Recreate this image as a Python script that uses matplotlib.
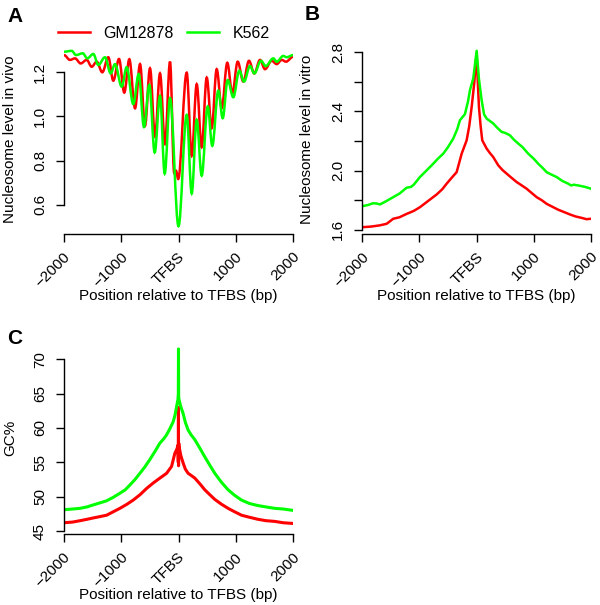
import matplotlib
matplotlib.use("Agg")
import matplotlib.pyplot as plt
from matplotlib.path import Path
from matplotlib.patches import PathPatch
import matplotlib.transforms as mtransforms

plt.rcParams['font.family'] = ['Liberation Sans', 'DejaVu Sans']
plt.rcParams['font.size'] = 11

RED = "#FF0000"
GREEN = "#00FF00"
W, H = 600, 605

### DATA ###

# A: nucleosome level in vivo, peaks and troughs
posA_gm = [-2000, -1895, -1808, -1708, -1604, -1516, -1429, -1331, -1226, -1139,
           -1039, -947, -859, -759, -672, -585, -498, -410, -323, -236,
           -148, -75, -45, -5, 143, 231, 318, 405, 493, 580,
           667, 755, 852, 940, 1034, 1132, 1231, 1324, 1424, 1511,
           1628, 1715, 1803, 1878, 2000]
valA_gm = [1.278, 1.256, 1.263, 1.240, 1.256, 1.225, 1.248, 1.200, 1.268, 1.162,
           1.260, 1.108, 1.259, 1.037, 1.237, 0.958, 1.218, 0.909, 1.195, 0.876,
           1.248, 0.745, 0.755, 0.717, 1.198, 0.822, 1.146, 0.861, 1.176, 0.947,
           1.214, 1.037, 1.243, 1.105, 1.248, 1.158, 1.252, 1.195, 1.256, 1.214,
           1.252, 1.237, 1.256, 1.248, 1.270]
posA_k = [-2000, -1866, -1790, -1673, -1593, -1488, -1401, -1284, -1184, -1109,
          -992, -905, -790, -695, -603, -510, -416, -323, -241, -148,
          0, 143, 231, 318, 405, 510, 590, 695, 772, 859,
          957, 1062, 1144, 1249, 1324, 1441, 1523, 1656, 1715, 1831,
          1890, 2000]
valA_k = [1.293, 1.297, 1.278, 1.286, 1.263, 1.283, 1.233, 1.268, 1.195, 1.237,
          1.135, 1.223, 1.056, 1.192, 0.952, 1.143, 0.837, 1.093, 0.741, 1.083,
          0.503, 1.007, 0.651, 0.985, 0.732, 1.045, 0.867, 1.117, 0.992, 1.165,
          1.087, 1.207, 1.158, 1.228, 1.195, 1.252, 1.228, 1.263, 1.248, 1.274,
          1.268, 1.278]

# B: nucleosome level in vitro
posB_gm = [-2000, -1850, -1700, -1574, -1459, -1350, -1224, -1100, -992, -850,
           -700, -600, -525, -430, -350, -262, -175, -130, -87, -40,
           -12, 0, 20, 40, 70, 98, 175, 230, 290, 378,
           450, 525, 600, 700, 790, 874, 960, 1049, 1140, 1224,
           1330, 1427, 1530, 1632, 1736, 1836, 1920, 2000]
valB_gm = [1.618, 1.622, 1.630, 1.641, 1.675, 1.685, 1.708, 1.728, 1.753, 1.795,
           1.839, 1.875, 1.912, 1.955, 1.990, 2.115, 2.205, 2.300, 2.431, 2.600,
           2.748, 2.780, 2.600, 2.431, 2.300, 2.205, 2.149, 2.120, 2.092, 2.036,
           2.005, 1.980, 1.955, 1.923, 1.900, 1.878, 1.850, 1.821, 1.800, 1.776,
           1.755, 1.736, 1.720, 1.704, 1.690, 1.681, 1.672, 1.675]
posB_k = [-2000, -1900, -1808, -1750, -1691, -1600, -1459, -1350, -1224, -1150,
          -1100, -992, -880, -759, -680, -584, -500, -409, -340, -292,
          -205, -150, -117, -59, 0, 40, 87, 130, 175, 290,
          360, 437, 500, 582, 650, 728, 800, 902, 1000, 1077,
          1150, 1224, 1300, 1399, 1500, 1602, 1650, 1700, 1777, 1900,
          2000]
valB_k = [1.760, 1.768, 1.780, 1.778, 1.772, 1.790, 1.821, 1.845, 1.885, 1.890,
          1.905, 1.957, 2.000, 2.047, 2.080, 2.115, 2.160, 2.217, 2.280, 2.341,
          2.382, 2.470, 2.544, 2.624, 2.810, 2.620, 2.477, 2.380, 2.352, 2.319,
          2.290, 2.262, 2.255, 2.239, 2.210, 2.183, 2.160, 2.115, 2.080, 2.047,
          2.020, 1.990, 1.975, 1.957, 1.930, 1.912, 1.900, 1.905, 1.900, 1.890,
          1.878]

# C: GC%
posC_gm = [-2000, -1850, -1720, -1600, -1489, -1370, -1255, -1140, -1023, -900,
           -791, -670, -557, -440, -325, -208, -121, -64, -25, -10,
           -4, -1, 1, 4, 10, 40, 81, 120, 168, 220,
           285, 370, 459, 545, 634, 750, 866, 980, 1100, 1240,
           1389, 1530, 1680, 1830, 2000]
valC_gm = [46.2, 46.3, 46.5, 46.7, 46.9, 47.1, 47.3, 47.8, 48.3, 48.9,
           49.5, 50.3, 51.2, 52.0, 52.7, 53.4, 54.4, 56.3, 57.0, 57.5,
           55.0, 63.0, 54.5, 57.8, 57.3, 56.0, 54.9, 54.0, 53.4, 53.1,
           52.7, 51.9, 51.0, 50.3, 49.6, 48.9, 48.3, 47.8, 47.3, 47.0,
           46.7, 46.5, 46.4, 46.2, 46.1]
posC_k = [-2000, -1850, -1720, -1600, -1489, -1370, -1255, -1140, -1023, -930,
          -848, -760, -674, -590, -500, -410, -325, -260, -208, -150,
          -93, -60, -34, -10, -3, 0, 3, 10, 40, 81,
          120, 168, 220, 285, 370, 459, 545, 634, 750, 866,
          980, 1100, 1240, 1389, 1530, 1680, 1830, 2000]
valC_k = [48.1, 48.2, 48.3, 48.5, 48.8, 49.1, 49.4, 49.9, 50.5, 51.0,
          51.7, 52.5, 53.4, 54.3, 55.4, 56.6, 57.8, 58.4, 59.0, 59.9,
          60.9, 61.9, 63.1, 64.1, 65.0, 71.5, 64.5, 64.1, 63.1, 62.1,
          60.8, 59.7, 59.0, 58.3, 57.1, 55.8, 54.6, 53.4, 52.1, 51.0,
          50.2, 49.5, 49.0, 48.7, 48.5, 48.3, 48.2, 48.0]

xticks = [-2000, -1000, 0, 1000, 2000]
xticklabels = ["\u22122000", "\u22121000", "TFBS", "1000", "2000"]
xlab = "Position relative to TFBS (bp)"


'''
smoothPath(xs, ys)
cubic bezier through the extrema, flat tangent at each one
'''
def smoothPath(xs, ys, k=0.36):
    verts = [(xs[0], ys[0])]
    codes = [Path.MOVETO]
    for i in range(1, len(xs)):
        h = xs[i] - xs[i-1]
        verts.append((xs[i-1] + k*h, ys[i-1]))
        verts.append((xs[i] - k*h, ys[i]))
        verts.append((xs[i], ys[i]))
        codes += [Path.CURVE4]*3
    return Path(verts, codes)


def addAxes(fig, left, top, right, bottom):
    return fig.add_axes([left/W, 1 - bottom/H, (right-left)/W, (bottom-top)/H])


def styleAxes(ax, ylim, yticks, ylabels):
    ax.set_xlim(-2000, 2000)
    ax.set_ylim(*ylim)
    for s in ["top", "right"]:
        ax.spines[s].set_visible(False)
    ax.spines["left"].set_bounds(yticks[0], yticks[-1])
    ax.spines["left"].set_linewidth(1)
    ax.spines["bottom"].set_linewidth(1)
    ax.set_yticks(yticks)
    ax.set_yticklabels(ylabels, rotation=90, va="center")
    ax.set_xticks(xticks)
    ax.set_xticklabels(xticklabels, rotation=45, ha="right", va="center",
                       rotation_mode="anchor")
    ax.tick_params(direction="out", length=5.8, width=1, labelsize=11)
    ax.tick_params(axis="y", pad=6.5)
    ax.tick_params(axis="x", pad=9)
    shift = mtransforms.ScaledTranslation(3/72, 0, ax.figure.dpi_scale_trans)
    for lab in ax.get_xticklabels():
        lab.set_transform(lab.get_transform() + shift)


fig = plt.figure(figsize=(6, 6.05), dpi=100)

# panel A
axA = addAxes(fig, 64, 44, 293, 234)
axA.add_patch(PathPatch(smoothPath(posA_gm, valA_gm), fill=False, edgecolor=RED, lw=1.8))
axA.add_patch(PathPatch(smoothPath(posA_k, valA_k), fill=False, edgecolor=GREEN, lw=1.8))
styleAxes(axA, (0.468, 1.328), [0.6, 0.8, 1.0, 1.2], ["0.6", "0.8", "1.0", "1.2"])
hr, = axA.plot([], [], color=RED, lw=1.8, label="GM12878")
hg, = axA.plot([], [], color=GREEN, lw=1.8, label="K562")
fig.legend(handles=[hr, hg], ncol=2, frameon=False, loc="center left",
           bbox_to_anchor=(58/W, 1 - 33/H), borderpad=0, borderaxespad=0,
           handlelength=2.0, handletextpad=0.85, columnspacing=0.85, fontsize=11.5)

# panel B
axB = addAxes(fig, 362.3, 43.7, 591, 234)
axB.plot(posB_gm, valB_gm, color=RED, lw=1.8)
axB.plot(posB_k, valB_k, color=GREEN, lw=1.8)
ytB = [1.6, 1.8, 2.0, 2.2, 2.4, 2.6, 2.8]
styleAxes(axB, (1.572, 2.858), ytB, ["1.6", "", "2.0", "", "2.4", "", "2.8"])

# panel C
axC = addAxes(fig, 64, 341.4, 293, 534.3)
axC.plot(posC_gm, valC_gm, color=RED, lw=2.2)
axC.plot(posC_k, valC_k, color=GREEN, lw=2.2)
styleAxes(axC, (44.52, 72.6), [45, 50, 55, 60, 65, 70],
          ["45", "50", "55", "60", "65", "70"])

# axis titles
fig.text(178.5/W, 1 - 296/H, xlab, ha="center", va="center", fontsize=11)
fig.text(476.7/W, 1 - 296/H, xlab, ha="center", va="center", fontsize=11)
fig.text(178.5/W, 1 - 595/H, xlab, ha="center", va="center", fontsize=11)
fig.text(10/W, 1 - 139/H, "Nucleosome level in vivo", rotation=90,
         ha="center", va="center", fontsize=11)
fig.text(307/W, 1 - 139/H, "Nucleosome level in vitro", rotation=90,
         ha="center", va="center", fontsize=11)
fig.text(10/W, 1 - 438/H, "GC%", rotation=90, ha="center", va="center", fontsize=11)

# panel letters
fig.text(7/W, 1 - 17/H, "A", fontweight="bold", fontsize=15, ha="left", va="center")
fig.text(305/W, 1 - 15/H, "B", fontweight="bold", fontsize=15, ha="left", va="center")
fig.text(7/W, 1 - 339/H, "C", fontweight="bold", fontsize=15, ha="left", va="center")

fig.savefig("out.png", dpi=100)
